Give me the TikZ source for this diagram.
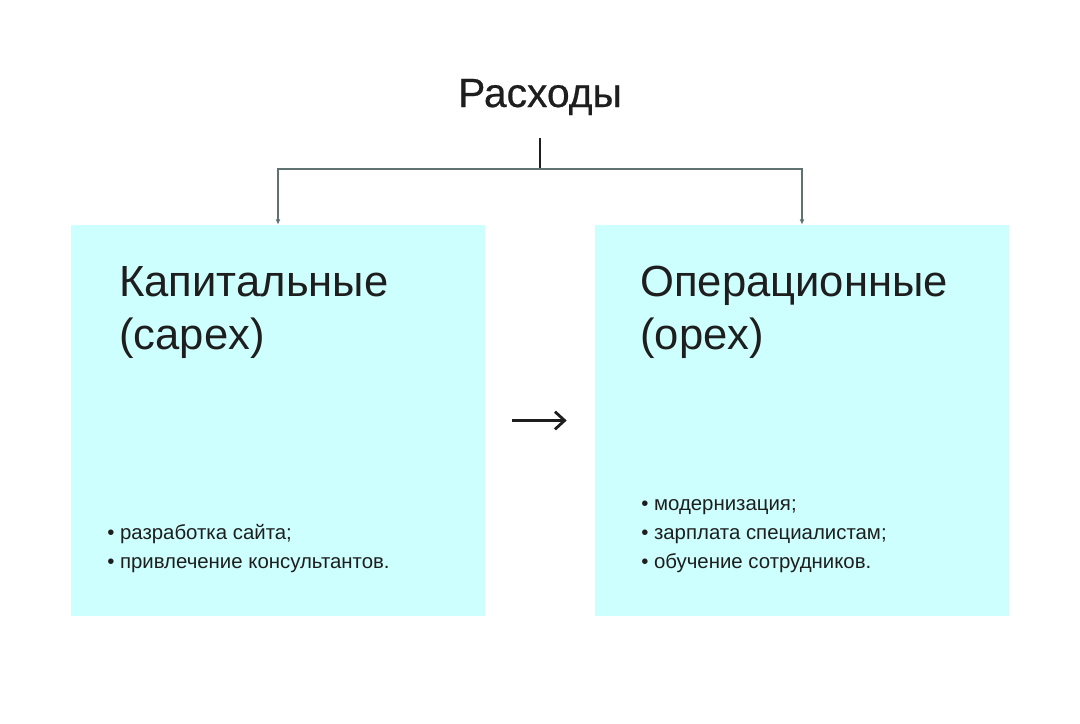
\documentclass[tikz,border=0pt]{standalone}
\usepackage{fontspec}
\setmainfont{Liberation Sans}
\newfontfamily\titlefont[FakeBold=0.5]{Liberation Sans}
\usepackage{tikz}
\usetikzlibrary{arrows.meta}
\definecolor{boxcyan}{HTML}{CCFFFD}
\definecolor{inkdark}{HTML}{1E1E1E}
\definecolor{linkgray}{HTML}{5F7272}

\begin{document}
\begin{tikzpicture}[x=0.025cm, y=-0.025cm,
    costbox/.style={rectangle, fill=boxcyan, minimum width=10.35cm, minimum height=9.775cm, inner sep=0pt},
    title/.style={font=\titlefont\fontsize{29}{34}\selectfont, text=inkdark, inner sep=0pt},
    head/.style={font=\fontsize{31}{37.6}\selectfont, text=inkdark, align=left, inner sep=0pt},
    items/.style={font=\fontsize{14.5}{20.5}\selectfont, text=inkdark, align=left, inner sep=0pt},
    trunk/.style={line width=0.8pt, color=inkdark},
    branch/.style={-{Latex[length=1.3mm, width=1.2mm]}, line width=0.8pt, color=linkgray},
    flow/.style={-{Straight Barb[length=2.4mm, width=4.4mm]}, line width=2pt, color=inkdark}
]
\useasboundingbox (0,0) rectangle (1080,724);

\node[title, anchor=base] (root) at (540,107) {Расходы};

\node[costbox] (capex) at (278,420.5) {};
\node[costbox] (opex) at (802,420.5) {};

\node[head, anchor=north west] (capexhead) at (119,266) {Капитальные\\(capex)};
\node[head, anchor=north west] (opexhead) at (640,266) {Операционные\\(opex)};

\node[items, anchor=south west] (capexitems) at (107,573) {• разработка сайта;\\• привлечение консультантов.};
\node[items, anchor=south west] (opexitems) at (641,573) {• модернизация;\\• зарплата специалистам;\\• обучение сотрудников.};

\coordinate (stem) at (540,138);
\coordinate (fork) at (540,169);
\draw[trunk] (stem) -- (fork);
\draw[branch] (fork) -| (capex.north);
\draw[branch] (fork) -| (opex.north);

\draw[flow, shorten <=27*0.025cm, shorten >=28*0.025cm] (capex) -- (opex);
\end{tikzpicture}
\end{document}
